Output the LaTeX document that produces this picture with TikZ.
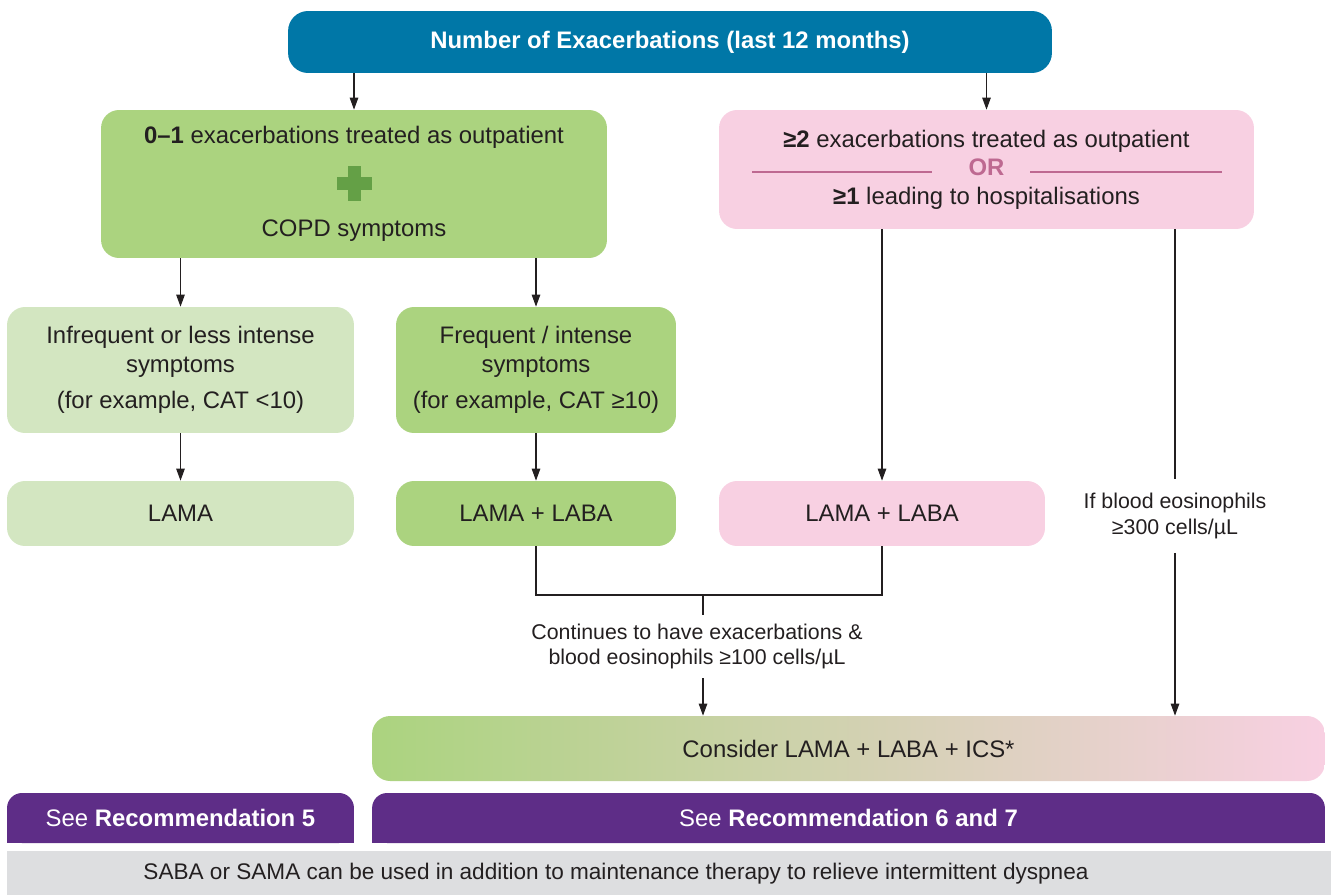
\documentclass[tikz,border=0pt]{standalone}
\usepackage{fontspec}
\setmainfont{Liberation Sans}
\usepackage{tikz}
\usetikzlibrary{
  arrows.meta,
  positioning,
  calc,
  backgrounds
}
\definecolor{HeadBlue}{RGB}{0,119,167}
\definecolor{LeafGreen}{RGB}{171,211,127}
\definecolor{PaleGreen}{RGB}{211,230,193}
\definecolor{SoftPink}{RGB}{248,208,226}
\definecolor{PlusGreen}{RGB}{100,160,70}
\definecolor{OrMauve}{RGB}{190,105,145}
\definecolor{RecPurple}{RGB}{94,45,135}
\definecolor{NoteGray}{RGB}{221,222,224}
\definecolor{InkGray}{RGB}{35,31,32}
\newcommand\mainsize{\fontsize{13.6}{16.2}\selectfont}
\newcommand\smallsize{\fontsize{12.15}{14.7}\selectfont}
\newcommand\notesize{\fontsize{12.85}{15}\selectfont}
\tikzset{
  basebox/.style={rectangle,rounded corners=3.6mm,align=center,text=InkGray,font=\mainsize,inner sep=0pt},
  headnode/.style={basebox,fill=HeadBlue,text=white,font=\mainsize\bfseries,minimum height=1.24cm,minimum width=15.28cm,rounded corners=4mm},
  greennode/.style={basebox,fill=LeafGreen},
  palenode/.style={basebox,fill=PaleGreen},
  pinknode/.style={basebox,fill=SoftPink},
  gradnode/.style={basebox,left color=LeafGreen,right color=SoftPink},
  recnode/.style={rectangle,rounded corners=3mm,fill=RecPurple,text=white,font=\mainsize,minimum height=1cm},
  notebar/.style={rectangle,fill=NoteGray,minimum height=0.88cm,minimum width=26.48cm},
  smalltext/.style={align=center,text=InkGray,font=\smallsize,inner sep=0pt},
  flowarrow/.style={-{Triangle[length=2.4mm,width=1.7mm]},line width=0.6pt,draw=InkGray},
  flowline/.style={line width=0.6pt,draw=InkGray},
  orline/.style={line width=0.6pt,draw=OrMauve}
}
\begin{document}
\begin{tikzpicture}[x=0.02cm,y=-0.02cm]
\useasboundingbox (0,0) rectangle (1331,895);

\node[headnode] (head) at (670,42) {Number of Exacerbations (last 12 months)};

\node[greennode,minimum width=10.12cm,minimum height=2.96cm] (exac01) at (354,184)
  {\textbf{0–1} exacerbations treated as outpatient\\[36.5pt]COPD symptoms};
\fill[PlusGreen] ($(exac01.center)+(-17.5,-6.5)$) rectangle ++(35,13);
\fill[PlusGreen] ($(exac01.center)+(-6.5,-17.5)$) rectangle ++(13,35);

\node[pinknode,minimum width=10.7cm,minimum height=2.38cm] (exac2) at (986.5,169.5)
  {\textbf{≥2} exacerbations treated as outpatient\\\textcolor{OrMauve}{\textbf{OR}}\\\textbf{≥1} leading to hospitalisations};
\draw[orline] ($(exac2.center)+(-234.5,2.5)$) -- ++(180,0);
\draw[orline] ($(exac2.center)+(43.5,2.5)$) -- ++(192,0);

\node[palenode,minimum width=6.94cm,minimum height=2.52cm] (inf) at (180.5,370)
  {Infrequent or less intense\\symptoms\\[4.3pt](for example, CAT <10)};
\node[greennode,minimum width=5.6cm,minimum height=2.52cm] (freq) at (536,370)
  {Frequent / intense\\symptoms\\[4.3pt](for example, CAT ≥10)};

\node[palenode,minimum width=6.94cm,minimum height=1.3cm] (lama) at (180.5,513.5) {LAMA};
\node[greennode,minimum width=5.6cm,minimum height=1.3cm] (lbgreen) at (536,513.5) {LAMA + LABA};
\node[pinknode,minimum width=6.52cm,minimum height=1.3cm] (lbpink) at (882,513.5) {LAMA + LABA};

\node[smalltext,minimum height=1.46cm] (eos300) at (1175,516)
  {If blood eosinophils\\≥300 cells/µL};
\node[smalltext,minimum height=1.26cm] (cont) at (697,646.5)
  {Continues to have exacerbations \&\\blood eosinophils ≥100 cells/µL};
\coordinate (join) at (703,595);

\node[gradnode,minimum width=19.06cm,minimum height=1.3cm] (triple) at (848.5,748.5)
  {Consider LAMA + LABA + ICS*};

\node[recnode,minimum width=6.94cm] (rec5) at (180.5,818) {See \textbf{Recommendation 5}};
\node[recnode,minimum width=19.06cm] (rec67) at (848.5,818) {See \textbf{Recommendation 6 and 7}};
\begin{scope}[on background layer]
  \fill[RecPurple] (rec5.west) rectangle (rec5.south east);
  \fill[RecPurple] (rec67.west) rectangle (rec67.south east);
\end{scope}

\node[notebar] (note) at (669,873) {};
\node[text=InkGray,font=\notesize] (notetext) at (616,874)
  {SABA or SAMA can be used in addition to maintenance therapy to relieve intermittent dyspnea};

\draw[flowarrow] (head.south -| exac01.north) -- (exac01.north);
\draw[flowarrow] (head.south -| exac2.north) -- (exac2.north);
\draw[flowarrow] (exac01.south -| inf.north) -- (inf.north);
\draw[flowarrow] (exac01.south -| freq.north) -- (freq.north);
\draw[flowarrow] (inf.south) -- (lama.north);
\draw[flowarrow] (freq.south) -- (lbgreen.north);
\draw[flowarrow] (exac2.south -| lbpink.north) -- (lbpink.north);
\draw[flowline] (exac2.south -| eos300.north) -- (eos300.north);
\draw[flowarrow] (eos300.south) -- (eos300.south |- triple.north);
\draw[flowline] (lbgreen.south) |- (join) -| (lbpink.south);
\draw[flowline] (join) -- (join |- cont.north);
\draw[flowarrow] (join |- cont.south) -- (join |- triple.north);
\end{tikzpicture}
\end{document}
